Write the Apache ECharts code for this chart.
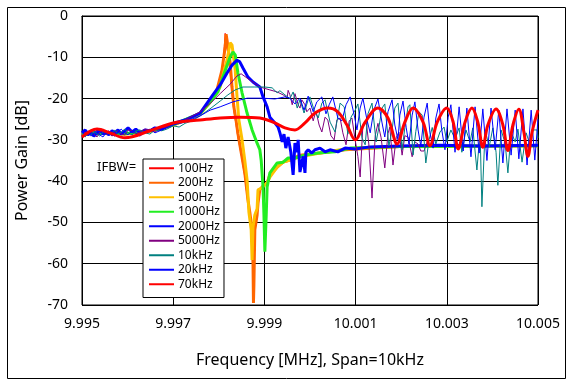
<!DOCTYPE html>
<html>
<head>
<meta charset="utf-8">
<script src="https://cdn.jsdelivr.net/npm/echarts@6/dist/echarts.min.js"></script>
<style>html,body{margin:0;padding:0;background:#fff;}#c{width:570px;height:382px;}</style>
</head>
<body>
<div id="c"></div>
<script>
// Frequency [MHz], Power Gain [dB]
const xTicks = [9.995, 9.997, 9.999, 10.001, 10.003, 10.005];
const yTicks = [0, -10, -20, -30, -40, -50, -60, -70];
const seriesNames = ['100Hz','200Hz','500Hz','1000Hz','2000Hz','5000Hz','10kHz','20kHz','70kHz'];

const s100 = [[9.99500,-28.5],[9.99539,-28.4],[9.99594,-28.5],[9.99649,-27.9],[9.99700,-26.4],[9.99759,-23.8],[9.99783,-20.8],[9.99796,-18.2],[9.99807,-13.5],[9.99811,-9.0],[9.99814,-4.2],[9.99816,-4.6],[9.99820,-9.5],[9.99825,-14.0],[9.99829,-19.0],[9.99833,-23.0],[9.99838,-26.5],[9.99842,-29.5],[9.99849,-33.5],[9.99857,-39.0],[9.99864,-45.5],[9.99868,-48.5],[9.99873,-53.0],[9.99875,-58.0],[9.99877,-62.0],[9.99879,-52.5],[9.99884,-48.0],[9.99886,-45.0],[9.99890,-42.3],[9.99897,-41.3],[9.99906,-40.5],[9.99912,-38.6],[9.99928,-36.7],[9.99941,-35.5],[9.99956,-35.0],[9.99978,-33.8],[10.00022,-33.2],[10.00077,-32.4],[10.00197,-31.6],[10.00500,-31.4]];

const s200 = [[9.99500,-28.6],[9.99539,-28.3],[9.99594,-28.6],[9.99649,-27.8],[9.99700,-26.4],[9.99759,-23.7],[9.99783,-20.6],[9.99796,-17.9],[9.99807,-13.1],[9.99814,-7.5],[9.99816,-4.4],[9.99818,-5.8],[9.99825,-11.4],[9.99829,-17.2],[9.99833,-22.0],[9.99838,-25.4],[9.99842,-28.5],[9.99849,-33.0],[9.99857,-38.0],[9.99864,-44.6],[9.99868,-47.5],[9.99873,-52.0],[9.99875,-60.0],[9.99876,-69.5],[9.99877,-65.0],[9.99879,-51.8],[9.99884,-48.2],[9.99886,-45.3],[9.99890,-42.1],[9.99897,-41.2],[9.99906,-40.4],[9.99912,-38.5],[9.99928,-36.6],[9.99941,-35.4],[9.99956,-34.9],[9.99978,-33.7],[10.00022,-33.2],[10.00077,-32.4],[10.00197,-31.6],[10.00500,-31.4]];

const s500 = [[9.99500,-28.7],[9.99539,-28.2],[9.99594,-28.6],[9.99649,-27.9],[9.99700,-26.4],[9.99759,-23.7],[9.99783,-20.6],[9.99803,-17.2],[9.99811,-13.5],[9.99818,-10.7],[9.99825,-6.5],[9.99829,-7.0],[9.99836,-13.1],[9.99840,-19.6],[9.99844,-25.2],[9.99851,-30.0],[9.99857,-35.0],[9.99862,-39.7],[9.99866,-47.5],[9.99871,-51.8],[9.99873,-59.1],[9.99875,-51.1],[9.99879,-48.2],[9.99884,-46.7],[9.99886,-42.1],[9.99895,-41.6],[9.99906,-40.4],[9.99912,-39.0],[9.99928,-36.6],[9.99941,-35.4],[9.99956,-34.9],[9.99978,-34.1],[10.00022,-33.2],[10.00077,-32.2],[10.00197,-31.6],[10.00500,-31.4]];

const s1000 = [[9.99500,-28.6],[9.99539,-28.4],[9.99594,-28.5],[9.99649,-27.8],[9.99700,-26.3],[9.99759,-23.6],[9.99783,-20.6],[9.99798,-18.4],[9.99809,-14.8],[9.99818,-12.0],[9.99825,-9.9],[9.99831,-8.7],[9.99836,-9.4],[9.99842,-13.8],[9.99851,-18.6],[9.99862,-23.5],[9.99873,-27.6],[9.99884,-30.8],[9.99890,-32.4],[9.99893,-35.0],[9.99897,-41.4],[9.99899,-48.2],[9.99901,-57.1],[9.99904,-48.2],[9.99906,-41.4],[9.99912,-38.0],[9.99928,-35.6],[9.99941,-35.4],[9.99952,-34.4],[9.99967,-34.4],[9.99989,-33.7],[10.00018,-33.2],[10.00055,-32.9],[10.00088,-32.0],[10.00197,-31.6],[10.00500,-31.4]];

const s2000 = [[9.99500,-28.3],[9.99507,-27.6],[9.99513,-28.8],[9.99520,-28.1],[9.99526,-29.1],[9.99533,-28.3],[9.99539,-27.4],[9.99546,-28.6],[9.99553,-28.1],[9.99559,-28.8],[9.99566,-27.8],[9.99572,-28.3],[9.99579,-27.6],[9.99586,-28.6],[9.99594,-27.8],[9.99601,-27.1],[9.99610,-28.1],[9.99618,-27.4],[9.99627,-28.3],[9.99638,-27.6],[9.99649,-27.8],[9.99660,-27.1],[9.99675,-27.4],[9.99686,-26.6],[9.99700,-26.0],[9.99726,-25.2],[9.99759,-23.5],[9.99787,-19.1],[9.99803,-16.7],[9.99818,-13.8],[9.99829,-11.9],[9.99840,-10.7],[9.99846,-11.1],[9.99853,-12.6],[9.99864,-14.8],[9.99875,-16.0],[9.99890,-17.2],[9.99897,-19.6],[9.99906,-22.0],[9.99912,-24.5],[9.99923,-25.9],[9.99930,-26.9],[9.99934,-28.3],[9.99939,-30.5],[9.99943,-28.6],[9.99947,-32.0],[9.99952,-29.3],[9.99958,-33.0],[9.99963,-38.5],[9.99967,-30.8],[9.99972,-33.0],[9.99974,-30.0],[9.99978,-37.8],[9.99985,-34.0],[9.99989,-38.0],[9.99991,-33.0],[9.99996,-32.4],[10.00004,-33.2],[10.00011,-32.4],[10.00022,-32.0],[10.00033,-32.9],[10.00044,-32.4],[10.00061,-32.9],[10.00077,-32.0],[10.00099,-32.2],[10.00132,-31.7],[10.00197,-31.5],[10.00285,-31.3],[10.00373,-31.5],[10.00500,-31.3]];

const s5000 = [[9.99500,-29.1],[9.99507,-28.1],[9.99513,-28.8],[9.99520,-27.8],[9.99526,-28.6],[9.99533,-29.3],[9.99539,-28.1],[9.99546,-27.6],[9.99553,-28.8],[9.99559,-28.3],[9.99566,-29.1],[9.99572,-28.1],[9.99579,-27.8],[9.99586,-28.6],[9.99594,-28.8],[9.99601,-27.6],[9.99610,-27.8],[9.99618,-28.6],[9.99627,-28.1],[9.99638,-27.4],[9.99649,-27.6],[9.99660,-28.1],[9.99675,-27.1],[9.99686,-26.9],[9.99700,-26.0],[9.99726,-25.2],[9.99759,-23.2],[9.99783,-21.0],[9.99803,-18.8],[9.99825,-16.5],[9.99840,-14.5],[9.99849,-14.0],[9.99868,-15.5],[9.99890,-17.2],[9.99912,-17.9],[9.99928,-18.4],[9.99941,-19.1],[9.99950,-19.8],[9.99952,-18.0],[9.99956,-19.1],[9.99961,-21.5],[9.99967,-18.8],[9.99974,-21.5],[9.99978,-22.3],[9.99982,-20.3],[9.99989,-21.5],[9.99993,-23.2],[10.00000,-22.3],[10.00007,-25.4],[10.00013,-23.0],[10.00020,-26.4],[10.00026,-28.1],[10.00033,-24.5],[10.00039,-25.2],[10.00046,-29.0],[10.00053,-30.0],[10.00059,-25.2],[10.00066,-24.7],[10.00072,-28.3],[10.00079,-31.2],[10.00086,-25.4],[10.00092,-24.7],[10.00099,-30.0],[10.00105,-34.0],[10.00110,-39.0],[10.00116,-26.4],[10.00123,-25.4],[10.00129,-31.0],[10.00136,-44.1],[10.00143,-29.0],[10.00149,-26.0],[10.00156,-29.5],[10.00164,-36.8],[10.00171,-28.5],[10.00175,-26.9],[10.00182,-36.1],[10.00189,-29.5],[10.00195,-28.1],[10.00202,-33.7],[10.00208,-29.0],[10.00215,-29.3],[10.00224,-34.1],[10.00230,-30.5],[10.00237,-31.0],[10.00243,-32.7],[10.00250,-32.7],[10.00257,-30.5],[10.00263,-31.2],[10.00274,-31.4]];

const s10k = [[9.99500,-28.8],[9.99507,-29.3],[9.99513,-28.3],[9.99520,-28.8],[9.99526,-27.8],[9.99533,-28.6],[9.99539,-29.1],[9.99546,-28.1],[9.99553,-27.8],[9.99559,-28.6],[9.99566,-28.3],[9.99572,-27.6],[9.99579,-28.6],[9.99586,-28.1],[9.99594,-27.4],[9.99601,-28.3],[9.99610,-28.8],[9.99618,-27.8],[9.99627,-27.6],[9.99638,-28.3],[9.99649,-28.6],[9.99660,-27.6],[9.99675,-27.8],[9.99686,-27.4],[9.99700,-26.6],[9.99713,-26.9],[9.99726,-26.0],[9.99741,-25.4],[9.99759,-24.2],[9.99783,-22.3],[9.99803,-20.6],[9.99820,-19.1],[9.99836,-17.9],[9.99853,-17.2],[9.99879,-17.2],[9.99901,-17.2],[9.99917,-17.4],[9.99928,-18.6],[9.99934,-18.1],[9.99945,-19.1],[9.99956,-20.0],[9.99963,-18.4],[9.99972,-22.3],[9.99978,-20.3],[9.99987,-23.5],[9.99996,-20.3],[10.00000,-19.6],[10.00009,-22.8],[10.00018,-24.7],[10.00026,-21.1],[10.00033,-20.3],[10.00044,-25.7],[10.00055,-28.1],[10.00066,-21.1],[10.00075,-22.0],[10.00083,-28.6],[10.00090,-24.5],[10.00099,-22.8],[10.00105,-21.3],[10.00114,-29.5],[10.00121,-31.2],[10.00127,-23.7],[10.00136,-21.1],[10.00145,-30.5],[10.00151,-27.0],[10.00158,-22.3],[10.00164,-21.3],[10.00173,-31.5],[10.00180,-27.6],[10.00186,-22.3],[10.00193,-21.1],[10.00202,-32.4],[10.00208,-27.0],[10.00215,-22.0],[10.00219,-21.5],[10.00226,-33.7],[10.00232,-28.0],[10.00239,-23.2],[10.00246,-24.0],[10.00254,-35.6],[10.00261,-30.0],[10.00268,-27.0],[10.00276,-31.0],[10.00285,-28.1],[10.00294,-26.9],[10.00300,-30.5],[10.00309,-27.6],[10.00318,-29.8],[10.00327,-27.1],[10.00333,-33.0],[10.00342,-27.6],[10.00351,-30.5],[10.00357,-27.1],[10.00366,-37.3],[10.00373,-28.1],[10.00377,-46.2],[10.00384,-27.6],[10.00393,-31.7],[10.00401,-27.1],[10.00408,-33.0],[10.00412,-41.0],[10.00419,-27.6],[10.00428,-30.8],[10.00434,-38.0],[10.00441,-28.1],[10.00450,-30.5],[10.00456,-27.4],[10.00465,-35.4],[10.00474,-28.3],[10.00482,-31.0],[10.00489,-27.6],[10.00498,-27.6],[10.00500,-29.5]];

const s20k = [[9.99500,-28.1],[9.99507,-28.8],[9.99513,-27.8],[9.99520,-29.1],[9.99526,-28.3],[9.99533,-27.6],[9.99539,-28.8],[9.99546,-29.3],[9.99553,-28.3],[9.99559,-27.8],[9.99566,-28.8],[9.99572,-29.1],[9.99579,-28.1],[9.99586,-27.4],[9.99594,-28.3],[9.99601,-28.8],[9.99610,-27.8],[9.99618,-28.3],[9.99627,-29.1],[9.99638,-28.1],[9.99649,-27.4],[9.99660,-28.3],[9.99675,-27.6],[9.99686,-27.1],[9.99700,-26.4],[9.99726,-25.7],[9.99759,-24.2],[9.99781,-22.8],[9.99803,-22.0],[9.99831,-20.8],[9.99862,-19.9],[9.99897,-19.9],[9.99923,-20.1],[9.99945,-19.6],[9.99956,-19.9],[9.99967,-21.3],[9.99978,-19.9],[9.99987,-22.8],[9.99996,-19.4],[10.00007,-23.2],[10.00015,-20.8],[10.00026,-19.6],[10.00035,-23.7],[10.00042,-21.5],[10.00050,-19.6],[10.00061,-24.7],[10.00070,-25.4],[10.00079,-21.5],[10.00088,-19.6],[10.00097,-24.0],[10.00103,-27.6],[10.00110,-22.3],[10.00116,-19.9],[10.00125,-25.2],[10.00132,-28.3],[10.00140,-22.8],[10.00149,-20.1],[10.00158,-25.9],[10.00164,-29.3],[10.00171,-23.2],[10.00180,-20.3],[10.00186,-26.4],[10.00193,-30.0],[10.00197,-24.0],[10.00204,-20.6],[10.00211,-27.1],[10.00217,-31.0],[10.00224,-24.0],[10.00230,-20.8],[10.00237,-27.6],[10.00243,-31.5],[10.00250,-24.5],[10.00257,-21.1],[10.00263,-28.3],[10.00270,-32.0],[10.00276,-24.7],[10.00283,-21.3],[10.00289,-27.6],[10.00296,-32.4],[10.00303,-24.5],[10.00309,-21.5],[10.00318,-33.0],[10.00327,-22.0],[10.00336,-32.7],[10.00344,-22.3],[10.00353,-34.1],[10.00362,-22.0],[10.00371,-33.2],[10.00379,-22.5],[10.00388,-35.0],[10.00397,-22.3],[10.00406,-32.4],[10.00414,-22.8],[10.00423,-35.6],[10.00432,-22.5],[10.00441,-33.7],[10.00450,-22.8],[10.00458,-34.6],[10.00467,-22.5],[10.00476,-36.1],[10.00485,-22.8],[10.00493,-34.9],[10.00500,-25.0]];

const s70k = [[9.99500,-29.3],[9.99533,-27.4],[9.99561,-28.3],[9.99594,-29.5],[9.99649,-27.8],[9.99700,-25.9],[9.99759,-25.2],[9.99803,-24.7],[9.99846,-24.5],[9.99890,-24.7],[9.99923,-25.9],[9.99945,-27.1],[9.99967,-27.6],[9.99989,-25.9],[10.00011,-23.5],[10.00039,-22.3],[10.00061,-23.2],[10.00081,-26.4],[10.00099,-30.0],[10.00121,-25.7],[10.00149,-22.3],[10.00171,-24.7],[10.00191,-31.0],[10.00208,-25.7],[10.00226,-22.3],[10.00248,-25.7],[10.00263,-31.4],[10.00279,-25.7],[10.00300,-22.3],[10.00314,-25.7],[10.00325,-32.2],[10.00340,-25.7],[10.00355,-22.3],[10.00368,-25.7],[10.00379,-31.8],[10.00390,-26.4],[10.00408,-22.5],[10.00423,-26.4],[10.00434,-32.6],[10.00445,-26.4],[10.00458,-22.6],[10.00469,-28.1],[10.00478,-34.0],[10.00487,-28.1],[10.00500,-22.8]];

const seriesData = [s100, s200, s500, s1000, s2000, s5000, s10k, s20k, s70k];
const seriesColors = ['#ff0000','#ff6600','#ffc000','#22ee22','#0000ff','#800080','#008080','#0000ff','#ff0000'];
const seriesWidths = [1, 3, 3, 3, 3, 1, 1, 1, 3];
const smoothFlags = [false,false,false,false,false,false,false,false,0.35];

const FONT = 'Noto Sans';
const chart = echarts.init(document.getElementById('c'), null, {renderer:'canvas'});
chart.setOption({
  animation: false,
  backgroundColor: '#fff',
  textStyle: {fontFamily: FONT},
  grid: {left: 82, top: 16, right: 32, bottom: 77, show: true, borderColor: '#000', borderWidth: 1, backgroundColor: 'transparent'},
  xAxis: {
    type: 'value', min: xTicks[0], max: xTicks[xTicks.length-1], interval: 0.002,
    axisLine: {show: true, lineStyle: {color: '#000', width: 1}},
    axisTick: {show: false},
    splitLine: {show: true, lineStyle: {color: '#000', width: 1}},
    axisLabel: {color: '#000', fontSize: 14, fontFamily: FONT, margin: 12, formatter: v => v.toFixed(3)},
    name: 'Frequency [MHz], Span=10kHz', nameLocation: 'middle', nameGap: 47,
    nameTextStyle: {color: '#000', fontSize: 16, fontFamily: FONT}
  },
  yAxis: {
    type: 'value', min: yTicks[yTicks.length-1], max: yTicks[0], interval: 10,
    axisLine: {show: true, lineStyle: {color: '#000', width: 1}},
    axisTick: {show: false},
    splitLine: {show: true, lineStyle: {color: '#000', width: 1}},
    axisLabel: {color: '#000', fontSize: 14, fontFamily: FONT, margin: 14},
    name: 'Power Gain [dB]', nameLocation: 'middle', nameGap: 52, nameRotate: 90,
    nameTextStyle: {color: '#000', fontSize: 16, fontFamily: FONT}
  },
  legend: {
    data: seriesNames, orient: 'vertical', left: 143, top: 159,
    backgroundColor: '#fff', borderColor: '#000', borderWidth: 1,
    padding: [2, 4, 6, 5], itemWidth: 25, itemHeight: 10, itemGap: 0,
    itemStyle: {opacity: 0},
    textStyle: {color: '#000', fontSize: 12, fontFamily: FONT, lineHeight: 14.5, padding: [0,0,0,-1]},
    selectedMode: false
  },
  graphic: [
    {type: 'rect', left: 5, top: 5, shape: {width: 558, height: 371}, style: {fill: 'none', stroke: '#000', lineWidth: 1}, silent: true},
    {type: 'text', left: 97, top: 161, style: {text: 'IFBW=', fill: '#000', font: '13px "Noto Sans"'}}
  ],
  series: seriesNames.map((n, i) => ({
    type: 'line', name: n, data: seriesData[i], symbol: 'none', showSymbol: false,
    smooth: smoothFlags[i], clip: true,
    lineStyle: {color: seriesColors[i], width: seriesWidths[i]},
    itemStyle: {color: seriesColors[i]},
    z: 2 + i
  }))
});
</script>
</body>
</html>
